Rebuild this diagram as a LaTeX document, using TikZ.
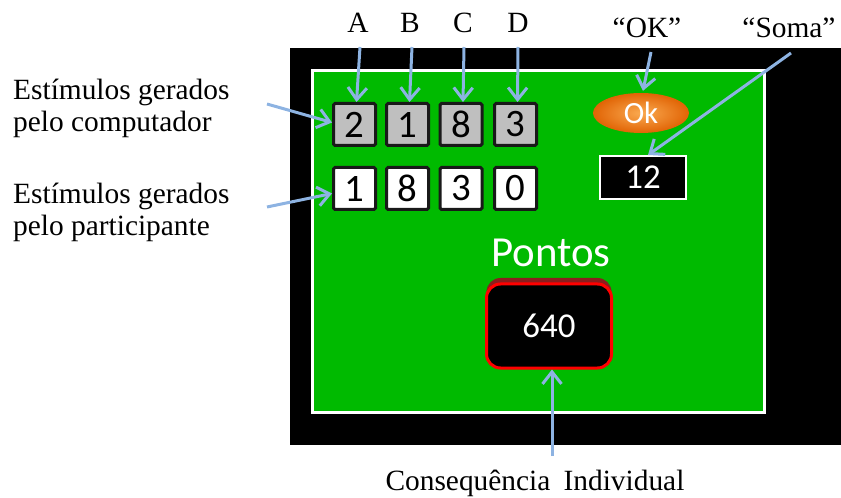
\documentclass[tikz,border=0pt]{standalone}
\usepackage{fontspec}
\setmainfont{Liberation Serif}
\newfontfamily\calfont{Carlito}
\usetikzlibrary{arrows.meta,calc,shadings,shapes.geometric}
\definecolor{scrgreen}{RGB}{0,186,0}
\definecolor{arrblue}{RGB}{141,179,226}
\definecolor{boxgray}{RGB}{191,191,191}
\definecolor{shadowred}{RGB}{140,30,30}
\definecolor{okin}{RGB}{250,170,80}
\definecolor{okout}{RGB}{225,100,5}
\begin{document}
\begin{tikzpicture}[x=1bp,y=-1bp,
  arr/.style={draw=arrblue,line width=3bp,-{Straight Barb[length=12bp,width=19bp]}},
  lbl/.style={font=\fontsize{29.5}{33}\selectfont,inner sep=0,align=left},
  toplbl/.style={font=\fontsize{29.5}{32}\selectfont,inner sep=0,anchor=base},
  cell/.style={draw=black!90,line width=3bp,minimum width=42bp,minimum height=42bp,inner sep=0,
    font=\calfont\fontsize{39}{39}\selectfont,rounded corners=1.5bp},
  graycell/.style={cell,fill=boxgray},
  whitecell/.style={cell,fill=white},
  whitetxt/.style={text=white,inner sep=0}
  ]
\useasboundingbox (0,0) rectangle (841,498);
% screen
\fill[black] (290,48) rectangle (841,445);
\draw[white,line width=3bp,fill=scrgreen] (312,71) rectangle (764,412);
% computer stimuli
\node[graycell] (g1) at (354.5,124.5) {2};
\node[graycell] (g2) at (407.5,124.5) {1};
\node[graycell] (g3) at (461,124.5) {8};
\node[graycell] (g4) at (515.5,124.5) {3};
% participant stimuli
\node[whitecell] (h1) at (354.5,188.5) {1};
\node[whitecell] (h2) at (407.5,188.5) {8};
\node[whitecell] (h3) at (461,188.5) {3};
\node[whitecell] (h4) at (515.5,188.5) {0};
% OK button
\node[ellipse,shade,inner color=okin,outer color=okout,draw=none,minimum width=96bp,minimum height=40bp,inner sep=0] (ok) at (641,113) {};
\node[whitetxt,font=\calfont\fontsize{31}{31}\selectfont,anchor=base] (oktxt) at (641,124) {Ok};
% sum
\node[draw=white,line width=2bp,fill=black,minimum width=86bp,minimum height=43bp,inner sep=0,
  text=white,font=\calfont\fontsize{35}{35}\selectfont] (sum) at (643,177.5) {12};
% points
\node[whitetxt,font=\calfont\fontsize{43}{43}\selectfont,anchor=base] (ptslbl) at (551,267) {Pontos};
\fill[shadowred,rounded corners=14bp] (486.5,278) rectangle (611.5,364);
\node[draw=red,line width=3bp,fill=black,rounded corners=14bp,minimum width=125bp,minimum height=84bp,inner sep=0,
  text=white,font=\calfont\fontsize{35}{35}\selectfont] (pts) at (549,326) {640};
% labels
\node[toplbl] (la) at (358,33) {A};
\node[toplbl] (lb) at (410,33) {B};
\node[toplbl] (lc) at (463,33) {C};
\node[toplbl] (ld) at (518,33) {D};
\node[toplbl] (lok) at (647,38) {“OK”};
\node[toplbl] (lsoma) at (789,38) {“Soma”};
\node[lbl,anchor=base west] (lcomp) at (13,132) {Estímulos gerados\\pelo computador};
\node[lbl,anchor=base west] (lpart) at (13,236) {Estímulos gerados\\pelo participante};
\node[toplbl] (lcons) at (535,490) {Consequência\hspace{0.2em} Individual};
% arrow tails
\coordinate (ta) at (360,47);
\coordinate (tb) at (412,47);
\coordinate (tc) at (464,47);
\coordinate (td) at (518,47);
\coordinate (tok) at (651,52);
\coordinate (tsoma) at (791,53);
\coordinate (tcomp) at (267,104);
\coordinate (tpart) at (267,207);
\coordinate (tcons) at (552,456);
% arrows
\draw[arr] (ta) -- ($(g1.north)+(2,0)$);
\draw[arr] (tb) -- ($(g2.north)+(2,0)$);
\draw[arr] (tc) -- ($(g3.north)+(2,0)$);
\draw[arr] (td) -- ($(g4.north)+(2,0)$);
\draw[arr] (tok) -- ($(ok.north)+(2,-2)$);
\draw[arr] (tsoma) -- ($(sum.north)+(5,0)$);
\draw[arr] (tcomp) -- ($(g1.west)+(0,-2)$);
\draw[arr] (tpart) -- ($(h1.west)+(0,5)$);
\draw[arr] (tcons) -- ($(pts.south)+(3,0)$);
\end{tikzpicture}
\end{document}
